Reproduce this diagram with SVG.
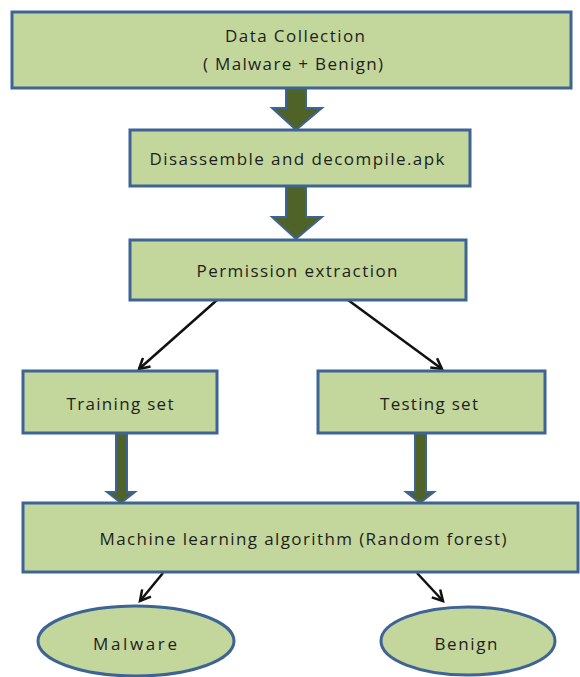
<svg xmlns="http://www.w3.org/2000/svg" width="580" height="677" viewBox="0 0 580 677">
<defs>
<style>
.box{fill:#c3d69b;stroke:#3e6496;stroke-width:3}
.blk{fill:#4f6228;stroke:#3e6496;stroke-width:2;stroke-linejoin:miter}
.ln{stroke:#111;stroke-width:2.5;fill:none}
text{font-family:"Open Sans","Liberation Sans",Arial,sans-serif;font-size:17px;fill:#1e1e1e;text-anchor:middle}
</style>
<marker id="ah" viewBox="0 0 12 12" refX="10" refY="6" markerWidth="5.5" markerHeight="5.5" orient="auto" markerUnits="strokeWidth">
<path d="M1,1 L10,6 L1,11" fill="none" stroke="#111" stroke-width="2.2"/>
</marker>
</defs>
<rect width="580" height="677" fill="#fff"/>
<g id="connectors">
<path class="blk" d="M286,88 H306 V108 H322 L296,130 L272,108 H286 Z"/>
<path class="blk" d="M286,186 H306 V217 H322 L296,239 L272,217 H286 Z"/>
<path class="blk" d="M116,433 H127 V492 H135 L121,503 L107,492 H116 Z"/>
<path class="blk" d="M415,433 H426 V492 H434 L420,503 L406,492 H415 Z"/>
<line class="ln" x1="217" y1="300" x2="139" y2="369" marker-end="url(#ah)"/>
<line class="ln" x1="348" y1="300" x2="442" y2="369" marker-end="url(#ah)"/>
<line class="ln" x1="163" y1="573" x2="140" y2="601" marker-end="url(#ah)"/>
<line class="ln" x1="417" y1="573" x2="443" y2="601" marker-end="url(#ah)"/>
</g>
<g id="data-collection">
<rect class="box" x="12" y="12" width="559" height="76"/>
<text x="295" y="42" textLength="140" lengthAdjust="spacing">Data Collection</text>
<text x="293" y="70" textLength="180" lengthAdjust="spacing">( Malware + Benign)</text>
</g>
<g id="disassemble">
<rect class="box" x="130" y="130" width="340" height="56"/>
<text x="297" y="165" textLength="295" lengthAdjust="spacing">Disassemble and decompile.apk</text>
</g>
<g id="permission">
<rect class="box" x="130" y="240" width="336" height="60"/>
<text x="297" y="277" textLength="201" lengthAdjust="spacing">Permission extraction</text>
</g>
<g id="training">
<rect class="box" x="23" y="371" width="194" height="62"/>
<text x="120" y="410" textLength="107" lengthAdjust="spacing">Training set</text>
</g>
<g id="testing">
<rect class="box" x="318" y="371" width="227" height="62"/>
<text x="429" y="410" textLength="98" lengthAdjust="spacing">Testing set</text>
</g>
<g id="ml">
<rect class="box" x="23" y="503" width="555" height="69"/>
<text x="303" y="545" textLength="407" lengthAdjust="spacing">Machine learning algorithm (Random forest)</text>
</g>
<g id="malware">
<ellipse class="box" cx="136" cy="641" rx="98" ry="35"/>
<text x="135" y="650" textLength="84" lengthAdjust="spacing">Malware</text>
</g>
<g id="benign">
<ellipse class="box" cx="468" cy="641" rx="87" ry="34"/>
<text x="466" y="650" textLength="63" lengthAdjust="spacing">Benign</text>
</g>
</svg>
